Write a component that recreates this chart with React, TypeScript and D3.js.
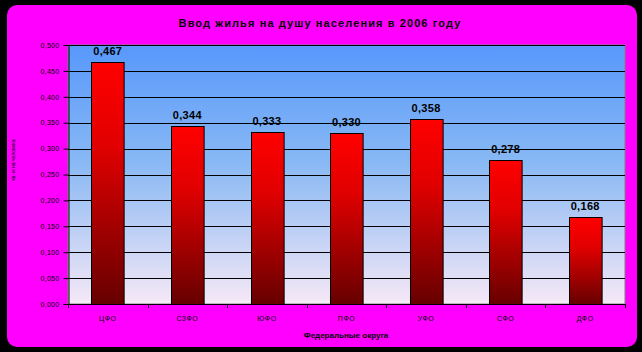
import React, { useRef, useEffect } from "react";
import * as d3 from "d3";

const title = "Ввод жилья на душу населения в 2006 году";
const districts = ["ЦФО", "СЗФО", "ЮФО", "ПФО", "УФО", "СФО", "ДФО"];
const values = [0.467, 0.344, 0.333, 0.33, 0.358, 0.278, 0.168];
const yTicks = [0, 0.05, 0.1, 0.15, 0.2, 0.25, 0.3, 0.35, 0.4, 0.45, 0.5];
const xTitle = "Федеральные округа";
const yTitle = "кв. м на человека";

const fmt = (v: number, d: number) => v.toFixed(d).replace(".", ",");

const App = () => {
  const ref = useRef<SVGSVGElement>(null);

  useEffect(() => {
    const width = 642;
    const height = 352;
    const left = 68;
    const right = 625;
    const top = 45;
    const bottom = 304;
    const font = "Arial, 'Liberation Sans', sans-serif";

    const svg = d3.select(ref.current);
    svg.selectAll("*").remove();

    const defs = svg.append("defs");
    const bg = defs.append("linearGradient").attr("id", "bg").attr("x1", 0).attr("y1", 0).attr("x2", 0).attr("y2", 1);
    bg.append("stop").attr("offset", "0%").attr("stop-color", "#5898fc");
    bg.append("stop").attr("offset", "45%").attr("stop-color", "#88b8f4");
    bg.append("stop").attr("offset", "100%").attr("stop-color", "#f6e8f6");
    const bar = defs.append("linearGradient").attr("id", "bar").attr("x1", 0).attr("y1", 0).attr("x2", 0).attr("y2", 1);
    bar.append("stop").attr("offset", "0%").attr("stop-color", "#ff0000");
    bar.append("stop").attr("offset", "35%").attr("stop-color", "#e00000");
    bar.append("stop").attr("offset", "100%").attr("stop-color", "#660000");

    svg.append("rect").attr("width", width).attr("height", height).attr("fill", "#000");
    svg.append("rect")
      .attr("x", 7).attr("y", 5).attr("width", 630).attr("height", 342)
      .attr("rx", 10).attr("fill", "#ff00ff");

    const x = d3.scaleBand().domain(districts).range([left, right]).paddingInner(0.59).paddingOuter(0.295);
    const y = d3.scaleLinear().domain([0, 0.5]).range([bottom, top]);

    svg.append("rect")
      .attr("x", left).attr("y", top).attr("width", right - left).attr("height", bottom - top)
      .attr("fill", "url(#bg)").attr("stroke", "#808080").attr("stroke-width", 1);

    svg.append("g").selectAll("line").data(yTicks.slice(1)).join("line")
      .attr("x1", left).attr("x2", right)
      .attr("y1", d => Math.round(y(d)) + 0.5).attr("y2", d => Math.round(y(d)) + 0.5)
      .attr("stroke", "#000").attr("stroke-width", 1);

    svg.append("g").selectAll("rect").data(values).join("rect")
      .attr("x", (d, i) => Math.round(x(districts[i])!) + 0.5)
      .attr("y", d => Math.round(y(d)) + 0.5)
      .attr("width", x.bandwidth())
      .attr("height", d => bottom - Math.round(y(d)))
      .attr("fill", "url(#bar)").attr("stroke", "#000").attr("stroke-width", 1);

    svg.append("g").selectAll("text").data(values).join("text")
      .attr("x", (d, i) => x(districts[i])! + x.bandwidth() / 2)
      .attr("y", d => y(d) - 7)
      .attr("text-anchor", "middle")
      .attr("font-family", font).attr("font-size", 11).attr("font-weight", "bold")
      .attr("letter-spacing", 0.3).attr("fill", "#000")
      .text(d => fmt(d, 3));

    // y axis
    const yAxis = svg.append("g")
      .attr("transform", `translate(${left + 0.5},0)`)
      .call(d3.axisLeft(y).tickValues(yTicks).tickSize(5).tickFormat(d => fmt(+d, 3)));
    yAxis.select(".domain").attr("stroke", "#000");
    yAxis.selectAll("line").attr("stroke", "#000");
    yAxis.selectAll("text")
      .attr("font-family", font).attr("font-size", 7).attr("letter-spacing", 0.3)
      .attr("fill", "#000").attr("x", -9);

    // x axis
    svg.append("line").attr("x1", left).attr("x2", right).attr("y1", bottom + 0.5).attr("y2", bottom + 0.5).attr("stroke", "#000");
    const step = x.step();
    svg.append("g").selectAll("line").data(d3.range(districts.length + 1)).join("line")
      .attr("x1", i => Math.round(left + i * step) + 0.5).attr("x2", i => Math.round(left + i * step) + 0.5)
      .attr("y1", bottom).attr("y2", bottom + 4)
      .attr("stroke", "#000");
    svg.append("g").selectAll("text").data(districts).join("text")
      .attr("x", d => x(d)! + x.bandwidth() / 2)
      .attr("y", 321)
      .attr("text-anchor", "middle")
      .attr("font-family", font).attr("font-size", 7).attr("letter-spacing", 0.5).attr("fill", "#000")
      .text(d => d);

    svg.append("text")
      .attr("x", 346).attr("y", 338).attr("text-anchor", "middle")
      .attr("font-family", font).attr("font-size", 8).attr("font-weight", "bold").attr("fill", "#000")
      .text(xTitle);

    svg.append("text")
      .attr("transform", "translate(15,160) rotate(-90)")
      .attr("text-anchor", "middle")
      .attr("font-family", font).attr("font-size", 5).attr("fill", "#000")
      .text(yTitle);

    svg.append("text")
      .attr("x", 320).attr("y", 27).attr("text-anchor", "middle")
      .attr("font-family", font).attr("font-size", 11).attr("font-weight", "bold")
      .attr("letter-spacing", 1.1).attr("fill", "#000")
      .text(title);
  }, []);

  return (
    <svg ref={ref} width={642} height={352} style={{ position: "absolute", left: 0, top: 0 }} />
  );
};

export default App;
